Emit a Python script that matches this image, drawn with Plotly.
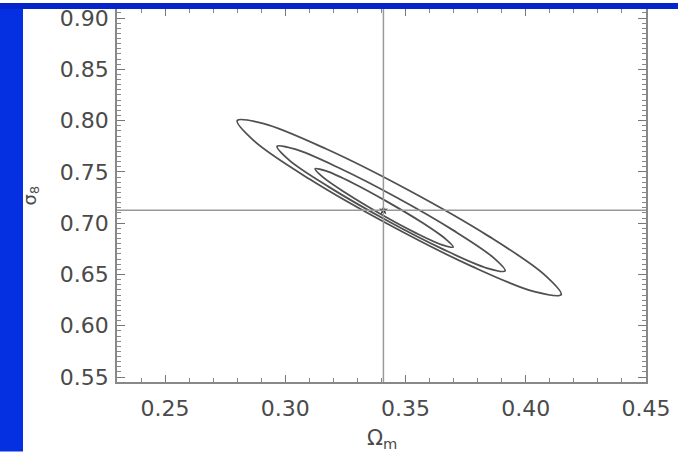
import plotly.graph_objects as go

# Best-fit point and reference lines
best_om = 0.3408
best_s8 = 0.7125

# Contour vertices (Omega_m, sigma_8)
inner_x = [0.3698, 0.3652, 0.3542, 0.3396, 0.3255, 0.3155, 0.3124, 0.3169, 0.3280, 0.3425, 0.3567, 0.3666, 0.3698]
inner_y = [0.6767, 0.6789, 0.6906, 0.7090, 0.7289, 0.7451, 0.7531, 0.7509, 0.7392, 0.7208, 0.7009, 0.6847, 0.6767]

mid_x = [0.3914, 0.3838, 0.3655, 0.3415, 0.3181, 0.3016, 0.2966, 0.3041, 0.3224, 0.3465, 0.3699, 0.3863, 0.3914]
mid_y = [0.6535, 0.6563, 0.6747, 0.7036, 0.7354, 0.7615, 0.7750, 0.7721, 0.7538, 0.7248, 0.6930, 0.6669, 0.6535]

outer_x = [0.4147, 0.4036, 0.3776, 0.3434, 0.3102, 0.2870, 0.2800, 0.2910, 0.3171, 0.3513, 0.3845, 0.4076, 0.4147]
outer_y = [0.6303, 0.6332, 0.6579, 0.6982, 0.7428, 0.7802, 0.8000, 0.7971, 0.7723, 0.7321, 0.6874, 0.6501, 0.6303]

x_ticks = [0.25, 0.30, 0.35, 0.40, 0.45]
x_ticklabels = ["0.25", "0.30", "0.35", "0.40", "0.45"]
y_ticks = [0.55, 0.60, 0.65, 0.70, 0.75, 0.80, 0.85, 0.90]
y_ticklabels = ["0.55", "0.60", "0.65", "0.70", "0.75", "0.80", "0.85", "0.90"]

LINE = "#505050"
FONT = "DejaVu Sans"
TXT = "#4a4a4a"

fig = go.Figure()
for xs, ys in [(outer_x, outer_y), (mid_x, mid_y), (inner_x, inner_y)]:
    fig.add_trace(go.Scatter(x=xs, y=ys, mode="lines",
                             line=dict(color=LINE, width=1.8, shape="spline", smoothing=1.0),
                             hoverinfo="skip", showlegend=False))

fig.add_trace(go.Scatter(x=[best_om], y=[best_s8], mode="markers",
                         marker=dict(symbol="star", size=7, color="#222"),
                         showlegend=False))

axis_common = dict(
    showgrid=False, zeroline=False, showline=True, linecolor="#888", linewidth=1.5,
    mirror="ticks", ticks="inside", tickcolor="#777", tickwidth=1,
    tickfont=dict(family=FONT, size=22, color=TXT),
)

fig.update_xaxes(range=[0.23, 0.45], tickvals=x_ticks, ticktext=x_ticklabels, ticklen=7,
                 minor=dict(dtick=0.01, ticks="inside", ticklen=4, tickcolor="#888"),
                 ticklabelstandoff=6, **axis_common)
fig.update_yaxes(range=[0.5452, 0.9088], tickvals=y_ticks, ticktext=y_ticklabels, ticklen=8,
                 minor=dict(dtick=0.005, ticks="inside", ticklen=4, tickcolor="#888"),
                 ticklabelstandoff=2, **axis_common)

shapes = [
    dict(type="line", xref="x", yref="paper", x0=best_om, x1=best_om, y0=0, y1=1,
         line=dict(color="#999", width=1.5)),
    dict(type="line", xref="paper", yref="y", x0=0, x1=1, y0=best_s8, y1=best_s8,
         line=dict(color="#999", width=1.5)),
]
# blue slide border (left strip and top bar)
W, H = 678, 452
l, r, t, b = 117, 32, 6, 70
pw, ph = W - l - r, H - t - b
def px_x(p):
    return (p - l) / pw
def px_y(p):
    return (H - b - p) / ph
shapes.append(dict(type="rect", xref="paper", yref="paper", layer="above",
                   x0=px_x(0), x1=px_x(23), y0=px_y(H), y1=px_y(0),
                   fillcolor="#0530e2", line=dict(width=0)))
shapes.append(dict(type="rect", xref="paper", yref="paper", layer="above",
                   x0=px_x(0), x1=px_x(W), y0=px_y(6), y1=px_y(0),
                   fillcolor="#0424cc", line=dict(width=0)))

annotations = [
    dict(text="Ω<sub>m</sub>", xref="paper", yref="paper", x=px_x(382), y=px_y(424),
         xanchor="center", yanchor="top", showarrow=False,
         font=dict(family=FONT, size=21, color=TXT)),
    dict(text="σ<sub>8</sub>", xref="paper", yref="paper", x=px_x(31), y=px_y(195),
         xanchor="center", yanchor="middle", textangle=-90, showarrow=False,
         font=dict(family=FONT, size=18, color=TXT)),
]

fig.update_layout(
    width=W, height=H, margin=dict(l=l, r=r, t=t, b=b),
    paper_bgcolor="white", plot_bgcolor="white",
    shapes=shapes, annotations=annotations, showlegend=False,
)

fig.write_html("out.html")
